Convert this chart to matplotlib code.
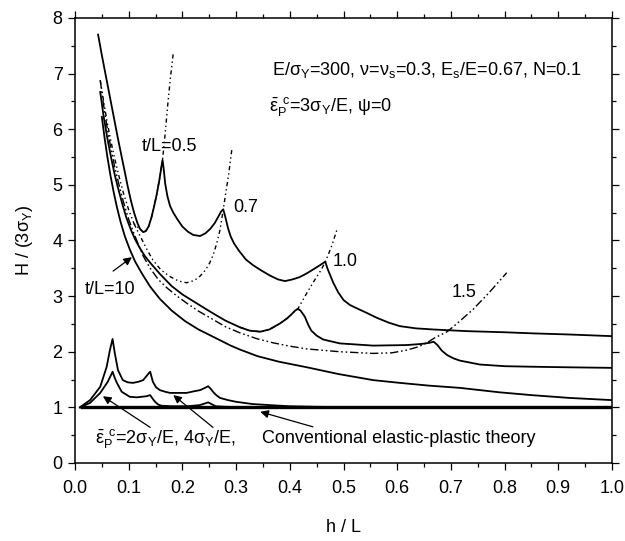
import matplotlib
matplotlib.use("Agg")
import matplotlib.pyplot as plt

plt.rcParams['font.family'] = ['Liberation Sans', 'DejaVu Sans']
plt.rcParams['font.size'] = 13

# solid curve, t/L = 0.5 .. 1.0 family (top)
a_x = [0.043, 0.050, 0.056, 0.063, 0.069, 0.075, 0.080, 0.087, 0.093, 0.098, 0.104, 0.110,
       0.116, 0.121, 0.127, 0.132, 0.137, 0.142, 0.147, 0.152, 0.157, 0.161, 0.163, 0.165,
       0.168, 0.172, 0.177, 0.183, 0.190, 0.200, 0.210, 0.220, 0.233, 0.243, 0.252, 0.260,
       0.267, 0.272, 0.276, 0.280, 0.285, 0.290, 0.296, 0.305, 0.318, 0.331, 0.347, 0.363,
       0.378, 0.391, 0.405, 0.418, 0.430, 0.442, 0.452, 0.460, 0.466, 0.470, 0.475, 0.481,
       0.490, 0.500, 0.512, 0.525, 0.545, 0.562, 0.585, 0.605, 0.635, 0.667, 0.730, 0.800,
       0.853, 0.920, 1.000]
a_y = [7.70, 7.33, 7.03, 6.68, 6.38, 6.08, 5.83, 5.50, 5.22, 4.98, 4.72, 4.50,
       4.32, 4.21, 4.15, 4.17, 4.25, 4.40, 4.60, 4.82, 5.08, 5.33, 5.45, 5.30,
       5.02, 4.80, 4.62, 4.50, 4.39, 4.25, 4.16, 4.10, 4.08, 4.13, 4.21, 4.31,
       4.43, 4.52, 4.56, 4.42, 4.22, 4.07, 3.95, 3.82, 3.66, 3.56, 3.46, 3.37,
       3.30, 3.27, 3.30, 3.34, 3.40, 3.47, 3.53, 3.58, 3.62, 3.50, 3.38, 3.24,
       3.07, 2.93, 2.84, 2.78, 2.69, 2.61, 2.52, 2.46, 2.42, 2.40, 2.37, 2.35,
       2.33, 2.31, 2.28]

# second solid curve
c_x = [0.047, 0.053, 0.060, 0.067, 0.074, 0.080, 0.088, 0.096, 0.105, 0.113, 0.121, 0.130,
       0.140, 0.158, 0.180, 0.200, 0.220, 0.240, 0.257, 0.280, 0.307, 0.325, 0.345, 0.362,
       0.382, 0.395, 0.404, 0.410, 0.415, 0.420, 0.428, 0.434, 0.440, 0.450, 0.462, 0.493,
       0.555, 0.618, 0.645, 0.660, 0.668, 0.675, 0.683, 0.693, 0.705, 0.717, 0.754, 0.800,
       0.853, 0.920, 1.000]
c_y = [6.67, 6.25, 5.85, 5.50, 5.18, 4.95, 4.66, 4.40, 4.17, 4.00, 3.86, 3.72,
       3.60, 3.40, 3.18, 3.03, 2.91, 2.79, 2.69, 2.56, 2.44, 2.38, 2.36, 2.40,
       2.51, 2.60, 2.68, 2.74, 2.77, 2.74, 2.63, 2.49, 2.38, 2.29, 2.22, 2.15,
       2.11, 2.12, 2.14, 2.16, 2.18, 2.12, 2.02, 1.94, 1.88, 1.84, 1.77, 1.74,
       1.73, 1.72, 1.71]

# t/L = 10
d_x = [0.050, 0.055, 0.060, 0.066, 0.072, 0.078, 0.085, 0.093, 0.102, 0.112, 0.125, 0.140,
       0.158, 0.180, 0.205, 0.230, 0.257, 0.290, 0.307, 0.340, 0.380, 0.432, 0.490, 0.555,
       0.605, 0.660, 0.717, 0.791, 0.850, 0.920, 1.000]
d_y = [6.22, 5.85, 5.52, 5.17, 4.87, 4.60, 4.33, 4.07, 3.84, 3.62, 3.40, 3.17,
       2.95, 2.74, 2.55, 2.40, 2.27, 2.11, 2.04, 1.92, 1.82, 1.72, 1.60, 1.49,
       1.44, 1.39, 1.35, 1.27, 1.22, 1.17, 1.13]

# dash-dot limit curves for t/L = 0.5, 0.7, 1.0, 1.5
dd05_x = [0.047, 0.053, 0.060, 0.067, 0.074, 0.082, 0.090, 0.100, 0.110, 0.120, 0.127, 0.132,
          0.137, 0.142, 0.147, 0.152, 0.157, 0.161, 0.163, 0.168, 0.173, 0.178, 0.183]
dd05_y = [6.88, 6.52, 6.12, 5.78, 5.47, 5.15, 4.86, 4.55, 4.30, 4.21, 4.15, 4.17,
          4.25, 4.40, 4.60, 4.82, 5.08, 5.33, 5.45, 5.93, 6.47, 6.95, 7.37]

dd07_x = [0.110, 0.118, 0.125, 0.135, 0.145, 0.160, 0.177, 0.193, 0.208, 0.222, 0.233, 0.243,
          0.251, 0.258, 0.264, 0.270, 0.276, 0.281, 0.286, 0.292]
dd07_y = [4.30, 4.14, 4.01, 3.82, 3.65, 3.47, 3.35, 3.27, 3.24, 3.28, 3.36, 3.47,
          3.60, 3.76, 3.95, 4.19, 4.55, 4.87, 5.18, 5.63]

dd10_x = [0.307, 0.325, 0.345, 0.362, 0.382, 0.395, 0.404, 0.410, 0.415, 0.432, 0.447, 0.457,
          0.466, 0.478, 0.488]
dd10_y = [2.44, 2.38, 2.36, 2.40, 2.51, 2.60, 2.68, 2.74, 2.77, 3.06, 3.30, 3.45,
          3.61, 3.90, 4.20]

dd15_x = [0.047, 0.053, 0.060, 0.067, 0.074, 0.082, 0.090, 0.100, 0.110, 0.120, 0.127, 0.140,
          0.155, 0.171, 0.190, 0.210, 0.230, 0.257, 0.280, 0.307, 0.340, 0.369, 0.400, 0.432,
          0.493, 0.555, 0.590, 0.618, 0.640, 0.655, 0.670, 0.693, 0.713, 0.740, 0.770, 0.804]
dd15_y = [6.88, 6.45, 6.02, 5.65, 5.32, 5.00, 4.70, 4.38, 4.12, 3.88, 3.72, 3.50,
          3.30, 3.15, 3.00, 2.86, 2.73, 2.58, 2.45, 2.34, 2.23, 2.16, 2.10, 2.05,
          2.00, 1.97, 1.98, 2.03, 2.09, 2.16, 2.25, 2.36, 2.52, 2.75, 3.05, 3.42]

# lower curves: eps_P^c = 2 sigma_Y/E and 4 sigma_Y/E
f_x = [0.009, 0.028, 0.047, 0.059, 0.065, 0.070, 0.074, 0.080, 0.089, 0.098, 0.108, 0.118,
       0.127, 0.133, 0.137, 0.140, 0.145, 0.151, 0.158, 0.168, 0.177, 0.193, 0.208, 0.222,
       0.233, 0.242, 0.248, 0.253, 0.257, 0.263, 0.270, 0.285, 0.300, 0.330, 0.363, 0.400,
       0.450, 0.550, 1.000]
f_y = [1.00, 1.13, 1.37, 1.73, 2.03, 2.23, 1.98, 1.67, 1.49, 1.45, 1.44, 1.46,
       1.49, 1.56, 1.61, 1.64, 1.46, 1.36, 1.31, 1.28, 1.26, 1.26, 1.26, 1.29,
       1.31, 1.35, 1.38, 1.33, 1.28, 1.22, 1.17, 1.13, 1.10, 1.06, 1.04, 1.02,
       1.01, 1.00, 1.00]

g_x = [0.009, 0.028, 0.047, 0.061, 0.066, 0.070, 0.074, 0.078, 0.087, 0.102, 0.115, 0.124,
       0.133, 0.140, 0.145, 0.149, 0.155, 0.161, 0.180, 0.210, 0.232, 0.242, 0.248, 0.254,
       0.262, 0.280, 0.320, 1.000]
g_y = [1.00, 1.08, 1.26, 1.46, 1.56, 1.64, 1.53, 1.44, 1.28, 1.19, 1.18, 1.19,
       1.20, 1.22, 1.15, 1.10, 1.05, 1.03, 1.02, 1.02, 1.04, 1.07, 1.09, 1.06,
       1.02, 1.01, 1.00, 1.00]

conv_x = [0.009, 1.0]
conv_y = [1.0, 1.0]

fig = plt.figure(figsize=(6.25, 5.41), dpi=100)
ax = fig.add_axes([0.12, 0.1442, 0.8592, 0.8226])

lw = 1.3
for xs, ys in [(a_x, a_y), (c_x, c_y), (d_x, d_y), (f_x, f_y), (g_x, g_y)]:
    ax.plot(xs, ys, color='k', lw=lw)
ax.plot(conv_x, conv_y, color='k', lw=2.4, solid_capstyle='butt')

short_dd = (3, 2.2, 1, 2.2, 1, 2.2)
ax.plot(dd05_x, dd05_y, color='k', lw=1.0, dashes=short_dd)
ax.plot(dd07_x, dd07_y, color='k', lw=1.0, dashes=short_dd)
ax.plot(dd10_x, dd10_y, color='k', lw=1.0, dashes=short_dd)
ax.plot(dd15_x, dd15_y, color='k', lw=1.0, dashes=(6, 2, 1.2, 2, 1.2, 2))

ax.set_xlim(0.0, 1.0)
ax.set_ylim(0, 8)
ax.set_xticks([i / 10 for i in range(11)])
ax.set_xticks([i / 20 for i in range(21)], minor=True)
ax.set_yticks(range(9))
ax.set_yticks([i / 2 for i in range(17)], minor=True)
ax.xaxis.set_major_formatter(matplotlib.ticker.FormatStrFormatter('%.1f'))
ax.tick_params(which='both', direction='out', top=True, right=True, width=0.9)
ax.tick_params(which='major', length=5)
ax.tick_params(which='minor', length=3)
ax.tick_params(axis='x', pad=7)
ax.tick_params(axis='y', pad=4)
for sp in ax.spines.values():
    sp.set_linewidth(1.1)

ax.set_xlabel('h / L')
ax.set_ylabel(r'H / (3$\mathregular{σ_Y}$)')
ax.xaxis.set_label_coords(0.5, -0.125)
ax.yaxis.set_label_coords(-0.075, 0.5)

eps = r'$\mathregular{\bar{ε}_P^{\;\,c}}$'
ax.text(0.367, 6.97, r'E/$\mathregular{σ_Y}$=300, ν=$\mathregular{ν_s}$=0.3, '
        r'$\mathregular{E_s}$/E=0.67, N=0.1', va='baseline')
ax.text(0.361, 6.32, eps + r'=3$\mathregular{σ_Y}$/E, ψ=0', va='baseline')

ax.text(0.125, 5.61, 't/L=0.5', va='baseline')
ax.text(0.294, 4.51, '0.7', va='baseline')
ax.text(0.48, 3.54, '1.0', va='baseline')
ax.text(0.702, 2.98, '1.5', va='baseline')
ax.text(0.019, 3.03, 't/L=10', va='baseline')
ax.text(0.037, 0.36, eps + r'=2$\mathregular{σ_Y}$/E, 4$\mathregular{σ_Y}$/E,', va='baseline')
ax.text(0.348, 0.36, 'Conventional elastic-plastic theory', va='baseline')

arrow = dict(arrowstyle='-|>', color='k', lw=0.9, mutation_scale=12, shrinkA=0, shrinkB=0)
ax.annotate('', xy=(0.106, 3.70), xytext=(0.071, 3.45), arrowprops=arrow)
ax.annotate('', xy=(0.052, 1.20), xytext=(0.140, 0.64), arrowprops=arrow)
ax.annotate('', xy=(0.183, 1.22), xytext=(0.257, 0.64), arrowprops=arrow)
ax.annotate('', xy=(0.345, 0.92), xytext=(0.443, 0.65), arrowprops=arrow)

fig.savefig('out.png', dpi=100)
